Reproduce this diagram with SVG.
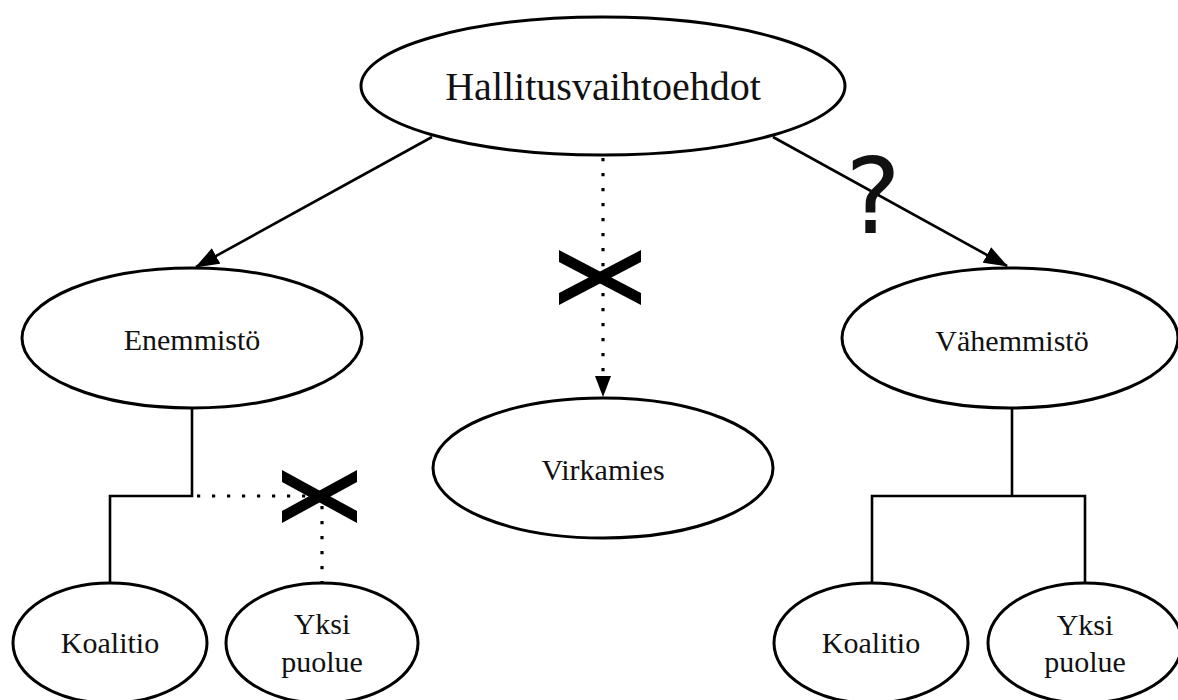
<svg xmlns="http://www.w3.org/2000/svg" width="1178" height="700" viewBox="0 0 1178 700">
<style>
.node{fill:#fff;stroke:#000;stroke-width:3}
.lbl{font-family:"Liberation Serif","Times New Roman",serif;font-size:30px;fill:#111;text-anchor:middle}
.big{font-size:40px}
.con{fill:none;stroke:#000;stroke-width:2.6}
.dot{fill:none;stroke:#000;stroke-width:3.2;stroke-dasharray:3.2 11.8}
.cross{fill:#000}
</style>
<defs>
<marker id="arr" markerUnits="userSpaceOnUse" markerWidth="24" markerHeight="18" viewBox="0 0 22 16" refX="21" refY="8" orient="auto">
<path d="M0,0 L22,8 L0,16 Z" fill="#000"/>
</marker>
</defs>
<rect width="1178" height="700" fill="#fff"/>
<g id="connectors">
<line class="con" x1="432" y1="137" x2="196" y2="267" marker-end="url(#arr)"/>
<line class="con" x1="773" y1="137" x2="1007" y2="266" marker-end="url(#arr)"/>
<line class="dot" x1="603" y1="158" x2="603" y2="380"/>
<path d="M595,376 L611,376 L603,397 Z" fill="#000"/>
<polyline class="con" points="192,408 192,496 110,496 110,583"/>
<line class="dot" x1="197" y1="496" x2="320" y2="496"/>
<line class="dot" x1="322" y1="506" x2="322" y2="583"/>
<polyline class="con" points="1012,408 1012,496"/>
<polyline class="con" points="872,583 872,496 1085,496 1085,583"/>
</g>
<g id="mark-q">
<text x="873" y="233" font-family="DejaVu Sans, sans-serif" font-size="105" text-anchor="middle" fill="#111">?</text>
</g>
<g id="mark-x1">
<polygon class="cross" points="559,250 641,293 641,305 559,262"/>
<polygon class="cross" points="559,293 641,250 641,262 559,305"/>
</g>
<g id="mark-x2">
<polygon class="cross" points="282,470 357,511 357,523 282,482"/>
<polygon class="cross" points="282,511 357,470 357,482 282,523"/>
</g>
<g id="n-hallitus">
<ellipse class="node" cx="603" cy="86" rx="242" ry="69"/>
<text class="lbl big" x="603" y="100">Hallitusvaihtoehdot</text>
</g>
<g id="n-enemmisto">
<ellipse class="node" cx="192" cy="338" rx="170" ry="70"/>
<text class="lbl" x="192" y="350">Enemmistö</text>
</g>
<g id="n-virkamies">
<ellipse class="node" cx="603" cy="468" rx="170" ry="70"/>
<text class="lbl" x="603" y="480">Virkamies</text>
</g>
<g id="n-vahemmisto">
<ellipse class="node" cx="1010" cy="338" rx="168" ry="70"/>
<text class="lbl" x="1012" y="351">Vähemmistö</text>
</g>
<g id="n-koalitio-l">
<ellipse class="node" cx="110" cy="643" rx="97" ry="60"/>
<text class="lbl" x="110" y="653">Koalitio</text>
</g>
<g id="n-yksi-l">
<ellipse class="node" cx="322" cy="643" rx="96" ry="60"/>
<text class="lbl" x="322" y="634">Yksi</text>
<text class="lbl" x="322" y="672">puolue</text>
</g>
<g id="n-koalitio-r">
<ellipse class="node" cx="871" cy="643" rx="97" ry="60"/>
<text class="lbl" x="871" y="653">Koalitio</text>
</g>
<g id="n-yksi-r">
<ellipse class="node" cx="1085" cy="643" rx="97" ry="60"/>
<text class="lbl" x="1085" y="635">Yksi</text>
<text class="lbl" x="1085" y="672">puolue</text>
</g>
</svg>
